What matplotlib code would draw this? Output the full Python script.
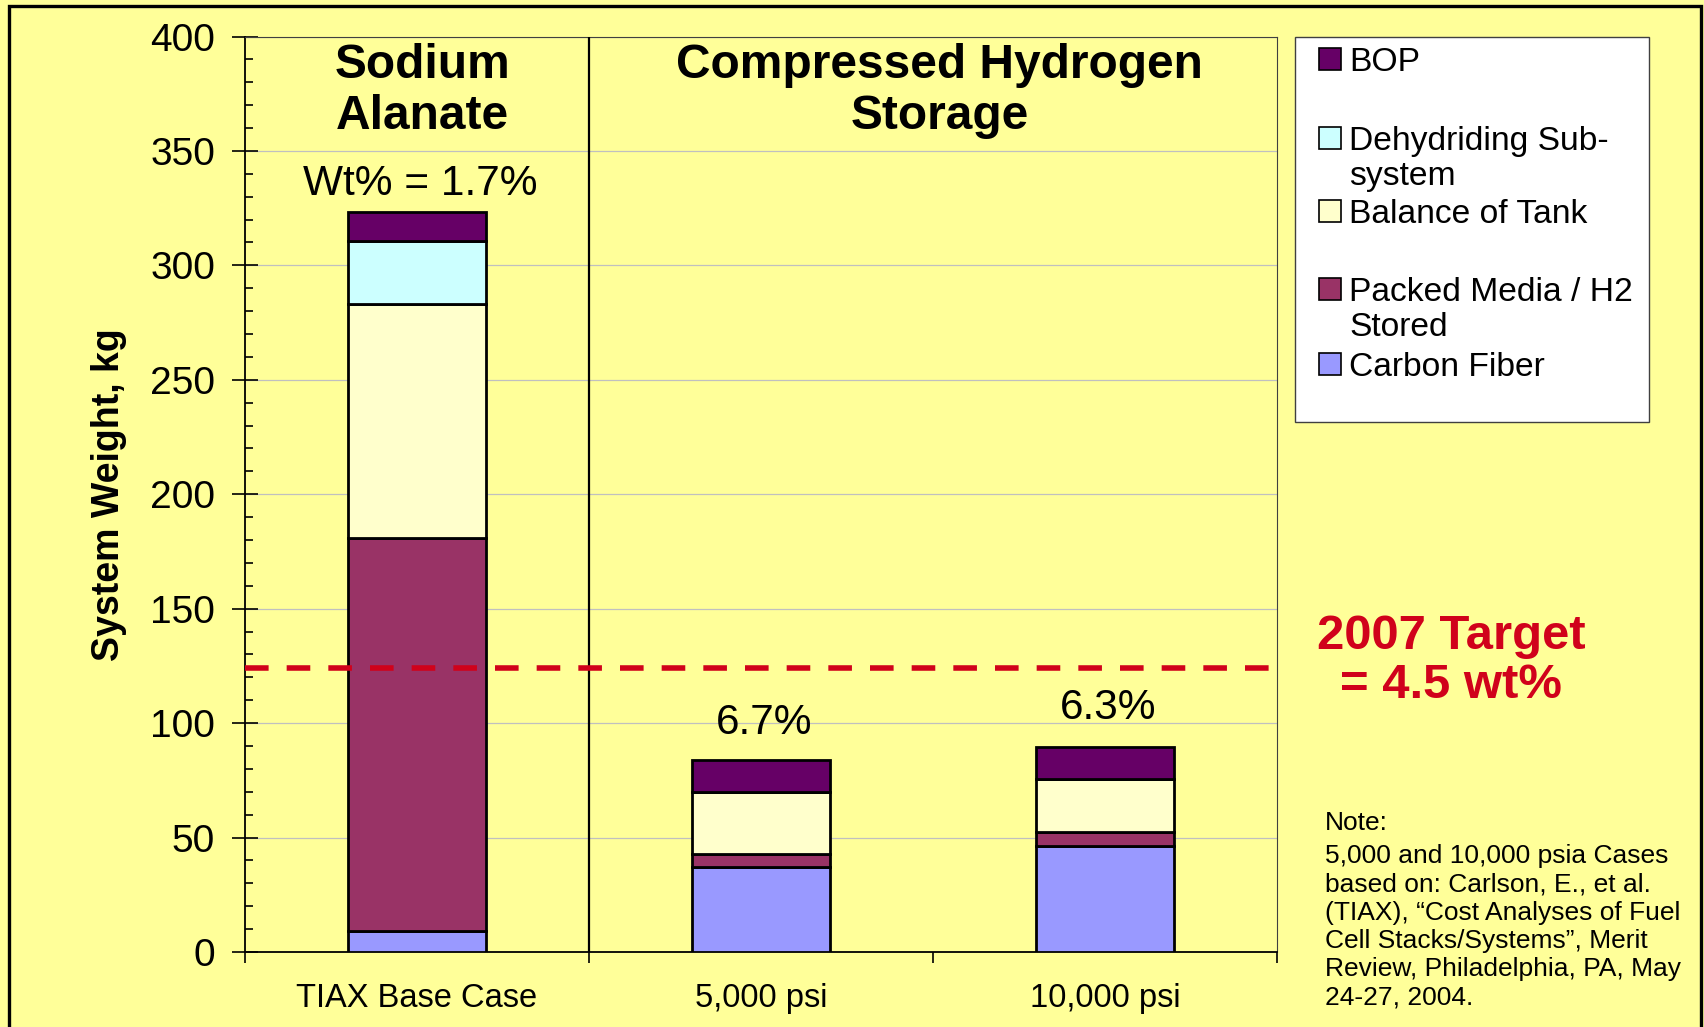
import matplotlib
matplotlib.use("Agg")
import matplotlib.pyplot as plt
from matplotlib.patches import Rectangle
from matplotlib.ticker import MultipleLocator
import numpy as np

plt.rcParams['font.family'] = ['Liberation Sans', 'DejaVu Sans']

# ---------------- data ----------------
categories = ["TIAX Base Case", "5,000 psi", "10,000 psi"]
series_names = ["Carbon Fiber", "Packed Media / H2\nStored", "Balance of Tank",
                "Dehydriding Sub-\nsystem", "BOP"]
carbon_fiber = [9, 37, 46.5]
packed_media = [172, 6, 6]
balance_tank = [102, 27, 23]
dehydriding = [27.5, 0, 0]
bop = [13, 14, 14]
series_values = [carbon_fiber, packed_media, balance_tank, dehydriding, bop]
series_colors = ["#9999FF", "#993366", "#FFFFCC", "#CCFFFF", "#660066"]
bar_labels = ["Wt% = 1.7%", "6.7%", "6.3%"]
target_value = 124
target_text = "2007 Target\n= 4.5 wt%"
group_titles = ["Sodium\nAlanate", "Compressed Hydrogen\nStorage"]
group_title_x = [0.017, 1.52]
note_head = "Note:"
note_body = ("5,000 and 10,000 psia Cases\nbased on: Carlson, E., et al.\n"
             "(TIAX), \u201cCost Analyses of Fuel\nCell Stacks/Systems\u201d, Merit\n"
             "Review, Philadelphia, PA, May\n24-27, 2004.")

W, H = 1704, 1027
BG = "#FFFF99"
fig = plt.figure(figsize=(W / 100, H / 100), dpi=100, facecolor=BG)

def fx(px):
    return px / W

def fy(py):
    return 1 - py / H

ax = fig.add_axes([fx(245), fy(952), fx(1277) - fx(245), fy(36.5) - fy(952)])
ax.set_facecolor(BG)

x = np.arange(len(categories))
bottom = np.zeros(len(categories))
for name, vals, col in zip(series_names, series_values, series_colors):
    ax.bar(x, vals, width=0.4, bottom=bottom, color=col, edgecolor="black",
           linewidth=2.0, zorder=3)
    bottom = bottom + np.array(vals)
totals = bottom

ax.set_xlim(-0.5, len(categories) - 0.5)
ax.set_ylim(0, 400)
ax.yaxis.set_major_locator(MultipleLocator(50))
ax.yaxis.set_minor_locator(MultipleLocator(10))
ax.grid(axis="y", which="major", color="#C0C0C0", linewidth=0.9, zorder=0)
ax.set_axisbelow(True)

ax.set_xticks(x)
ax.set_xticklabels(categories, fontsize=23.5)
ax.set_xticks(np.arange(-0.5, len(categories)), minor=True)
ax.tick_params(axis="x", which="major", length=0, pad=22)
ax.tick_params(axis="x", which="minor", length=8, width=1.2, direction="out")
ax.tick_params(axis="y", which="major", direction="inout", length=19, width=1.2,
               labelsize=28, pad=12)
ax.tick_params(axis="y", which="minor", direction="in", length=6, width=1.2)

for s in ["top", "right"]:
    ax.spines[s].set_color("#404040")
    ax.spines[s].set_linewidth(0.8)
for s in ["left", "bottom"]:
    ax.spines[s].set_color("black")
    ax.spines[s].set_linewidth(1.3)

ax.set_ylabel("System Weight, kg", fontsize=27, fontweight="bold", labelpad=17)

# group separator
ax.axvline(0.5, color="black", linewidth=1.6, zorder=4)

# target line
ax.axhline(target_value, color="#D0021B", linewidth=4,
           linestyle=(0, (4.25, 3.25)), zorder=5, clip_on=False)

# group titles
for t, gx in zip(group_titles, group_title_x):
    ax.text(gx, 397, t, ha="center", va="top", fontsize=34.5, fontweight="bold",
            linespacing=1.17, zorder=6)

# bar labels
label_offsets = [12, 18.5, 20]
for xi, tot, lab, off in zip(x, totals, bar_labels, label_offsets):
    ax.annotate(lab, (xi, tot), xytext=(2, off), textcoords="offset points",
                ha="center", va="baseline", fontsize=30.5, zorder=6)

# target text
ax.text(3.006, 127, target_text, ha="center", va="center", fontsize=35.3,
        fontweight="bold", color="#D0021B", linespacing=1.12, clip_on=False)

# legend (manual, Excel-like)
fig.patches.append(Rectangle((fx(1295), fy(422)), fx(1649) - fx(1295), fy(37) - fy(422),
                             transform=fig.transFigure, facecolor="white",
                             edgecolor="#404040", linewidth=1.0, zorder=1))
legend_first_line_y = [59, 138, 211, 289, 364]  # top-to-bottom
line_step = 35
legend_order = list(range(len(series_names)))[::-1]
for ypx, idx in zip(legend_first_line_y, legend_order):
    fig.patches.append(Rectangle((fx(1319), fy(ypx + 11)), fx(22), 22 / H,
                                 transform=fig.transFigure,
                                 facecolor=series_colors[idx], edgecolor="black",
                                 linewidth=1.2, zorder=2))
    for k, line in enumerate(series_names[idx].split("\n")):
        fig.text(fx(1349), fy(ypx + k * line_step), line, fontsize=24.2,
                 ha="left", va="center_baseline", zorder=3)

# note
fig.text(fx(1325), fy(821), note_head, fontsize=19, ha="left", va="center_baseline")
fig.text(fx(1325), fy(844), note_body, fontsize=19, ha="left", va="top",
         linespacing=1.23)

# outer border
fig.patches.append(Rectangle((fx(9), fy(1040)), fx(1701) - fx(9), fy(6) - fy(1040),
                             transform=fig.transFigure, fill=False,
                             edgecolor="black", linewidth=2.4, zorder=10))

fig.savefig("out.png", dpi=100, facecolor=BG)
